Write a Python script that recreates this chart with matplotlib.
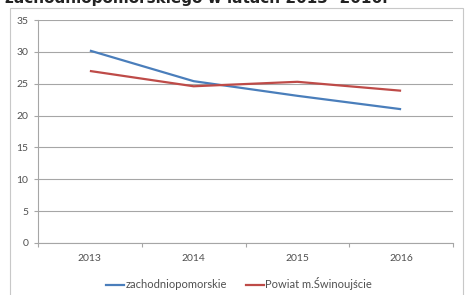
import matplotlib
matplotlib.use("Agg")
import matplotlib.pyplot as plt
from matplotlib.patches import Rectangle
from matplotlib.lines import Line2D

# ---- data ----
years = ["2013", "2014", "2015", "2016"]
zachodniopomorskie = [30.2, 25.4, 23.1, 21.0]
swinoujscie = [27.0, 24.6, 25.3, 23.9]
yticks = [0, 5, 10, 15, 20, 25, 30, 35]

BLUE = "#4a7ebb"; RED = "#be4b48"; GRID = "#a6a6a6"; TXT = "#505050"
plt.rcParams["font.family"] = ["Lato", "DejaVu Sans"]

W, H = 465, 295
fig = plt.figure(figsize=(W / 100, H / 100), dpi=100)

# cropped title at the very top of the picture (cut off in the source too)
fig.text(5 / W, 1 - 3 / H, "zachodniopomorskiego w latach 2013- 2016.", fontsize=11,
         fontweight="bold", color="#222222", ha="left", va="baseline",
         family=["DejaVu Sans"])

# outer chart frame
fig.patches.append(Rectangle((10 / W, -0.05), 453 / W, 1 - 8 / H + 0.05,
                             transform=fig.transFigure, fill=False,
                             edgecolor="#c8c8c8", linewidth=0.8))

ax = fig.add_axes([38 / W, 1 - 243 / H, (453 - 38) / W, (243 - 20) / H])
x = list(range(len(years)))
ax.plot(x, zachodniopomorskie, color=BLUE, lw=1.6, solid_capstyle="butt")
ax.plot(x, swinoujscie, color=RED, lw=1.6, solid_capstyle="butt")

ax.set_xlim(-0.5, len(years) - 0.5)
ax.set_ylim(0, 35)
ax.set_yticks(yticks)
ax.set_yticklabels([str(v) for v in yticks])
ax.yaxis.grid(True, color=GRID, lw=0.8)
ax.set_axisbelow(True)

# category boundaries as tick marks, labels in between
ax.set_xticks([i - 0.5 for i in range(len(years) + 1)])
ax.set_xticklabels([])
ax.set_xticks(x, minor=True)
ax.set_xticklabels(years, minor=True)
ax.tick_params(axis="x", which="major", length=3, color=GRID, direction="out")
ax.tick_params(axis="x", which="minor", length=0, pad=8, labelsize=7.5, labelcolor=TXT)
ax.tick_params(axis="y", length=3, color=GRID, pad=4, labelsize=7.5, labelcolor=TXT)

for s in ["top", "right"]:
    ax.spines[s].set_visible(False)
for s in ["left", "bottom"]:
    ax.spines[s].set_color(GRID)
    ax.spines[s].set_linewidth(0.8)

handles = [Line2D([], [], color=BLUE, lw=1.6), Line2D([], [], color=RED, lw=1.6)]
fig.legend(handles, ["zachodniopomorskie", "Powiat m.Świnoujście"],
           loc="center", bbox_to_anchor=(239 / W, 1 - 284 / H), ncol=2, frameon=False,
           fontsize=8, handlelength=1.6, handletextpad=0.15, columnspacing=1.7,
           labelcolor=TXT, borderpad=0)

fig.savefig("out.png", dpi=100)
